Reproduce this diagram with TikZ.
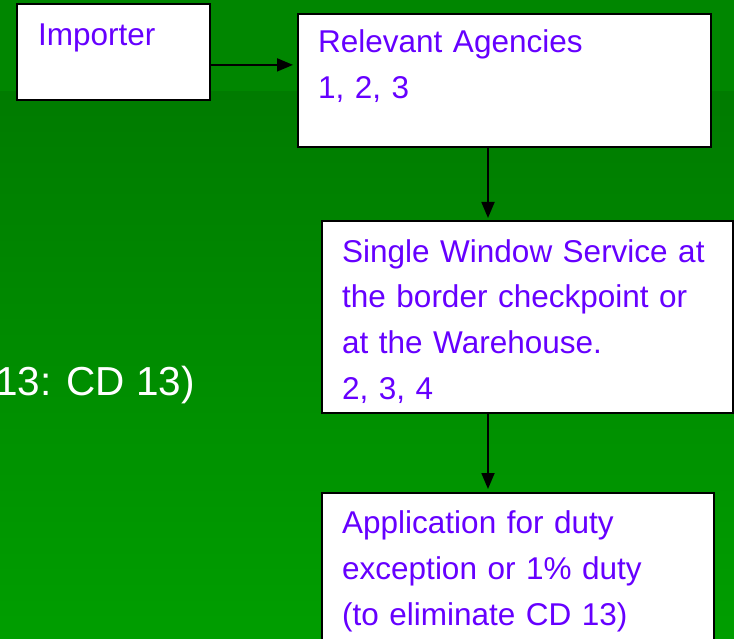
\documentclass[tikz,border=0pt]{standalone}
\usepackage{fontspec}
\setmainfont{Liberation Sans}
\usetikzlibrary{arrows.meta}
\definecolor{bandgreen}{RGB}{0,134,0}
\definecolor{topgreen}{RGB}{0,123,0}
\definecolor{botgreen}{RGB}{0,158,0}
\definecolor{agency}{RGB}{102,0,255}

\begin{document}
\begin{tikzpicture}[x=1pt, y=-1pt,
    box/.style = {draw, fill=white, line width=1.8pt, anchor=north west, inner sep=0pt},
    boxtext/.style = {anchor=base west, inner sep=0pt, text=agency, align=left,
        text width=390pt, font=\fontsize{31.5}{46}\selectfont},
    arr/.style = {line width=1.8pt, -{Triangle[length=16pt, width=13pt]}}]
    \useasboundingbox (0,0) rectangle (734,639);
    \fill[bandgreen] (0,0) rectangle (734,92);
    \shade[top color=topgreen, bottom color=botgreen] (0,92) rectangle (734,639);

    \node[anchor=base east, inner sep=0pt, text=white, font=\fontsize{40.5}{46}\selectfont] (note) at (195,395) {13: CD 13)};

    \node[box, minimum width=193pt, minimum height=96pt] (imp) at (16,3) {};
    \node[box, minimum width=413pt, minimum height=133pt] (agencies) at (297,13) {};
    \node[box, minimum width=411pt, minimum height=192pt] (win) at (321,220) {};
    \node[box, minimum width=392pt, minimum height=170pt] (app) at (321,492) {};

    \node[boxtext] (impT) at (38,46) {Importer};
    \node[boxtext] (agT) at (318,53) {Relevant Agencies\\1, 2, 3};
    \node[boxtext] (winT) at (342,262) {Single Window Service at\\the border checkpoint or\\at the Warehouse.\\2, 3, 4};
    \node[boxtext] (appT) at (342,533) {Application for duty\\exception or 1\% duty\\(to eliminate CD 13)};

    \coordinate (mid) at (488,0);
    \draw[arr] ([yshift=-13pt]imp.east) -- ([xshift=-4pt, yshift=15.5pt]agencies.west);
    \draw[arr, shorten >=2pt] (agencies.south -| mid) -- (win.north -| mid);
    \draw[arr, shorten >=3pt] (win.south -| mid) -- (app.north -| mid);
\end{tikzpicture}
\end{document}
